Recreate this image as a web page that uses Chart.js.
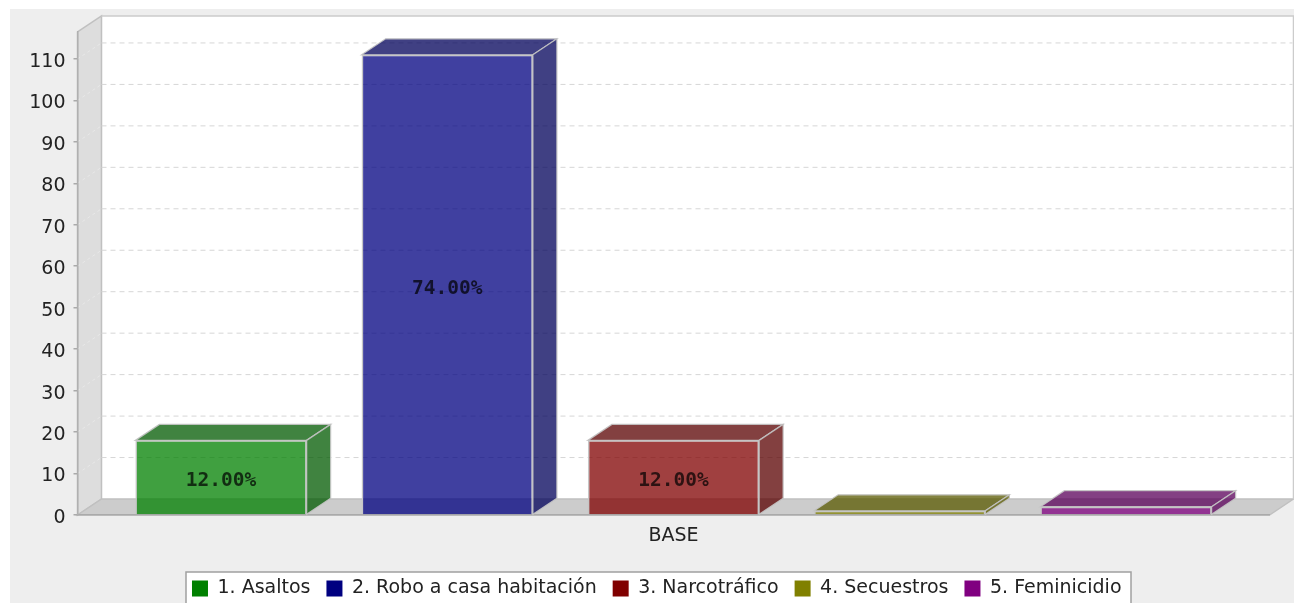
<!DOCTYPE html>
<html>
<head>
<meta charset="utf-8">
<title>Delitos</title>
<script src="https://cdn.jsdelivr.net/npm/chart.js@4"></script>
<style>
    html, body { margin: 0; padding: 0; background: #fff; overflow: hidden; }
    canvas { display: block; filter: blur(0.35px); }
</style>
</head>
<body>
<canvas id="chart" width="1294" height="603"></canvas>
<script>
const categories = ['BASE'];
const seriesNames = ['1. Asaltos', '2. Robo a casa habitación', '3. Narcotráfico', '4. Secuestros', '5. Feminicidio'];
const seriesValues = [18, 111, 18, 1, 2];
const barLabels = ['12.00%', '74.00%', '12.00%', '', ''];
const seriesRgb = ['0,128,0', '0,0,128', '128,0,0', '128,128,0', '128,0,128'];
const sideRgb = ['0,89,0', '0,0,89', '89,0,0', '89,89,0', '89,0,89'];

const AXIS_MAX = 116.5;
const TICK_STEP = 10;
const DEPTH_X = 24;
const DEPTH_Y = 16;
const PLOT_BOTTOM = 515;
const FONT = '"DejaVu Sans", sans-serif';

function poly(ctx, pts, fill, stroke) {
    ctx.beginPath();
    pts.forEach((p, i) => i ? ctx.lineTo(p[0], p[1]) : ctx.moveTo(p[0], p[1]));
    ctx.closePath();
    if (fill) { ctx.fillStyle = fill; ctx.fill(); }
    if (stroke) { ctx.strokeStyle = stroke; ctx.stroke(); }
}

// Walls, floor, back grid and legend frame go under everything else
const backdrop = {
    id: 'backdrop',
    afterLayout(chart) {
        chart.legend.top = 563;
        chart.legend.bottom = 615;
        chart.legend.left += 22;
        chart.legend.right += 22;
    },
    beforeDraw(chart) {
        const { ctx, chartArea: a, scales: { y } } = chart;
        ctx.save();
        ctx.fillStyle = '#eeeeee';
        ctx.fillRect(10, 9, chart.width - 10, chart.height - 9);

        // back wall
        ctx.fillStyle = '#ffffff';
        ctx.fillRect(a.left + DEPTH_X, a.top - DEPTH_Y, a.width, a.height);

        ctx.lineWidth = 1.5;
        poly(ctx, [[a.left, a.bottom], [a.left, a.top], [a.left + DEPTH_X, a.top - DEPTH_Y], [a.left + DEPTH_X, a.bottom - DEPTH_Y]], '#dddddd', '#c0c0c0');
        poly(ctx, [[a.left, a.bottom], [a.left + DEPTH_X, a.bottom - DEPTH_Y], [a.right + DEPTH_X, a.bottom - DEPTH_Y], [a.right, a.bottom]], '#cccccc', '#c0c0c0');

        ctx.strokeStyle = '#cccccc';
        ctx.beginPath();
        ctx.moveTo(a.left + DEPTH_X, a.top - DEPTH_Y);
        ctx.lineTo(a.right + DEPTH_X, a.top - DEPTH_Y);
        ctx.lineTo(a.right + DEPTH_X, a.bottom - DEPTH_Y);
        ctx.stroke();

        // dashed grid on the back wall, running down the side wall
        ctx.lineWidth = 1;
        y.ticks.forEach(t => {
            const py = y.getPixelForValue(t.value);
            if (t.value === 0) return;
            ctx.setLineDash([5, 4]);
            ctx.strokeStyle = '#d6d6d6';
            ctx.beginPath();
            ctx.moveTo(a.left + DEPTH_X, py - DEPTH_Y);
            ctx.lineTo(a.right + DEPTH_X - 1, py - DEPTH_Y);
            ctx.stroke();
            ctx.setLineDash([3, 3]);
            ctx.strokeStyle = '#e8e8e8';
            ctx.beginPath();
            ctx.moveTo(a.left, py);
            ctx.lineTo(a.left + DEPTH_X, py - DEPTH_Y);
            ctx.stroke();
        });
        ctx.setLineDash([]);

        // legend frame, runs off the bottom of the picture
        ctx.fillStyle = '#ffffff';
        ctx.strokeStyle = '#a0a0a0';
        ctx.lineWidth = 1.5;
        ctx.fillRect(186, 572, 945, 40);
        ctx.strokeRect(186, 572, 945, 40);
        ctx.restore();
    }
};

// Top and side faces of each bar plus the percent labels
const bars3d = {
    id: 'bars3d',
    afterDatasetsDraw(chart) {
        const { ctx } = chart;
        ctx.save();
        ctx.lineWidth = 1.25;
        chart.data.datasets.forEach((ds, i) => {
            const bar = chart.getDatasetMeta(i).data[0];
            const { x, y, base, width } = bar.getProps(['x', 'y', 'base', 'width'], true);
            const l = x - width / 2, r = x + width / 2;
            const side = `rgba(${sideRgb[i]},0.75)`;
            const edge = 'rgba(196,196,196,0.9)';
            poly(ctx, [[l, y], [l + DEPTH_X, y - DEPTH_Y], [r + DEPTH_X, y - DEPTH_Y], [r, y]], side, edge);
            poly(ctx, [[r, y], [r + DEPTH_X, y - DEPTH_Y], [r + DEPTH_X, base - DEPTH_Y], [r, base]], side, edge);

            if (barLabels[i]) {
                ctx.font = 'bold 19.5px "DejaVu Sans Mono", monospace';
                ctx.fillStyle = 'rgba(0,0,0,0.72)';
                ctx.textAlign = 'center';
                ctx.textBaseline = 'middle';
                ctx.fillText(barLabels[i], x, (y + base) / 2 + 4);
            }
        });
        ctx.restore();
    }
};

new Chart(document.getElementById('chart').getContext('2d'), {
    type: 'bar',
    data: {
        labels: categories,
        datasets: seriesNames.map((name, i) => ({
            label: name,
            data: [seriesValues[i]],
            backgroundColor: `rgba(${seriesRgb[i]},0.75)`,
            borderColor: '#c6c6c6',
            borderWidth: 1.5
        }))
    },
    options: {
        responsive: false,
        animation: false,
        devicePixelRatio: 1,
        categoryPercentage: 0.949,
        barPercentage: 0.757,
        layout: { padding: { top: 32, right: 24.5, left: 0, bottom: 0 } },
        plugins: {
            tooltip: { enabled: false },
            legend: {
                position: 'bottom',
                labels: {
                    boxWidth: 16,
                    boxHeight: 16,
                    padding: 16,
                    color: '#222222',
                    font: { family: FONT, size: 19 },
                    generateLabels(chart) {
                        return Chart.defaults.plugins.legend.labels.generateLabels(chart).map((item, i) => ({
                            ...item,
                            fillStyle: `rgb(${seriesRgb[i]})`,
                            strokeStyle: `rgb(${seriesRgb[i]})`,
                            lineWidth: 0
                        }));
                    }
                }
            }
        },
        scales: {
            x: {
                grid: { display: false },
                border: { display: true, color: '#aaaaaa', width: 1.5 },
                afterFit(scale) { scale.height = 603 - PLOT_BOTTOM - scale.chart.legend.height; },
                ticks: { color: '#222222', padding: 2, maxRotation: 0, font: { family: FONT, size: 19 } }
            },
            y: {
                min: 0,
                max: AXIS_MAX,
                grid: { drawOnChartArea: false, tickLength: 4, color: '#aaaaaa', lineWidth: 1.5 },
                border: { display: true, color: '#b0b0b0', width: 1.5 },
                afterFit(scale) { scale.width = 77.5; },
                ticks: {
                    stepSize: TICK_STEP,
                    includeBounds: false,
                    padding: 8,
                    labelOffset: 3,
                    color: '#222222',
                    font: { family: FONT, size: 19 }
                }
            }
        }
    },
    plugins: [backdrop, bars3d]
});
</script>
</body>
</html>
